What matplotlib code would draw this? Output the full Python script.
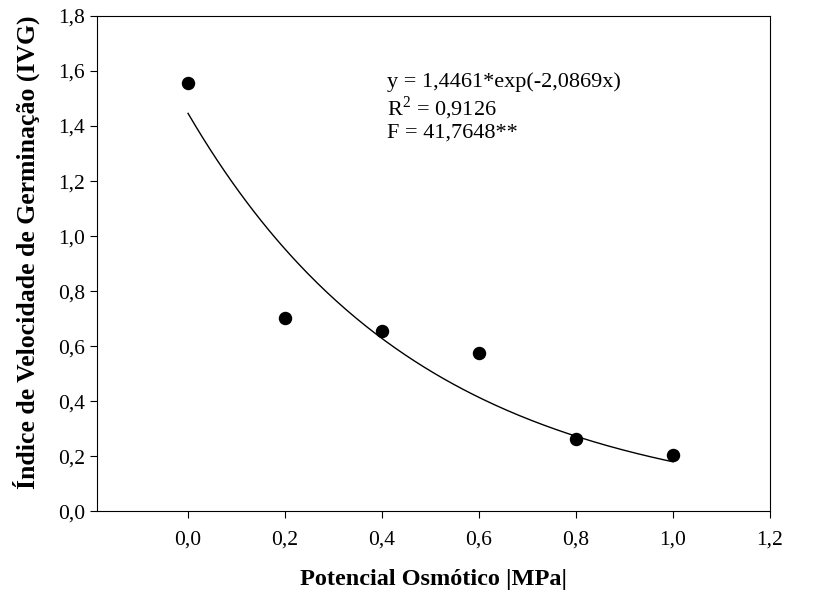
import numpy as np
import matplotlib
matplotlib.use('Agg')
import matplotlib.pyplot as plt

plt.rcParams['font.family'] = ['Liberation Serif', 'DejaVu Serif']
plt.rcParams['mathtext.fontset'] = 'custom'
plt.rcParams['mathtext.rm'] = 'Liberation Serif'

# dados observados
potencial = [0.0, 0.2, 0.4, 0.6, 0.8, 1.0]
ivg = [1.555, 0.702, 0.655, 0.575, 0.262, 0.205]

# parâmetros do ajuste y = a*exp(b*x)
a, b = 1.4461, -2.0869

xticks = [0.0, 0.2, 0.4, 0.6, 0.8, 1.0, 1.2]
xticklabels = ['0,0', '0,2', '0,4', '0,6', '0,8', '1,0', '1,2']
yticks = [0.0, 0.2, 0.4, 0.6, 0.8, 1.0, 1.2, 1.4, 1.6, 1.8]
yticklabels = ['0,0', '0,2', '0,4', '0,6', '0,8', '1,0', '1,2', '1,4', '1,6', '1,8']

fig = plt.figure(figsize=(8.14, 5.93), dpi=100)
ax = fig.add_axes([0.119, 0.138, 0.827, 0.835])

xs = np.linspace(0, 1, 200)
ax.plot(xs, a * np.exp(b * xs), color='black', linewidth=1)
ax.scatter(potencial, ivg, s=75, color='black', zorder=3)

ax.text(0.41, 1.595,
        'y = 1,4461*exp(-2,0869x)\nR$^{2}$ = 0,9126\nF = 41,7648**',
        fontsize=16, va='top', ha='left', linespacing=1.12)

ax.set_xlim(-0.188, 1.2)
ax.set_ylim(0, 1.8)
ax.set_xticks(xticks)
ax.set_xticklabels(xticklabels)
ax.set_yticks(yticks)
ax.set_yticklabels(yticklabels)
ax.tick_params(direction='out', length=5, labelsize=15.5, top=False, right=False)
ax.tick_params(axis='x', pad=9)

ax.set_xlabel('Potencial Osmótico |MPa|', fontsize=17.5, fontweight='bold', labelpad=14)
ax.set_ylabel('Índice de Velocidade de Germinação (IVG)', fontsize=18.5,
              fontweight='bold')
ax.yaxis.set_label_coords(-0.085, 0.522)

plt.savefig('out.png', dpi=100)
